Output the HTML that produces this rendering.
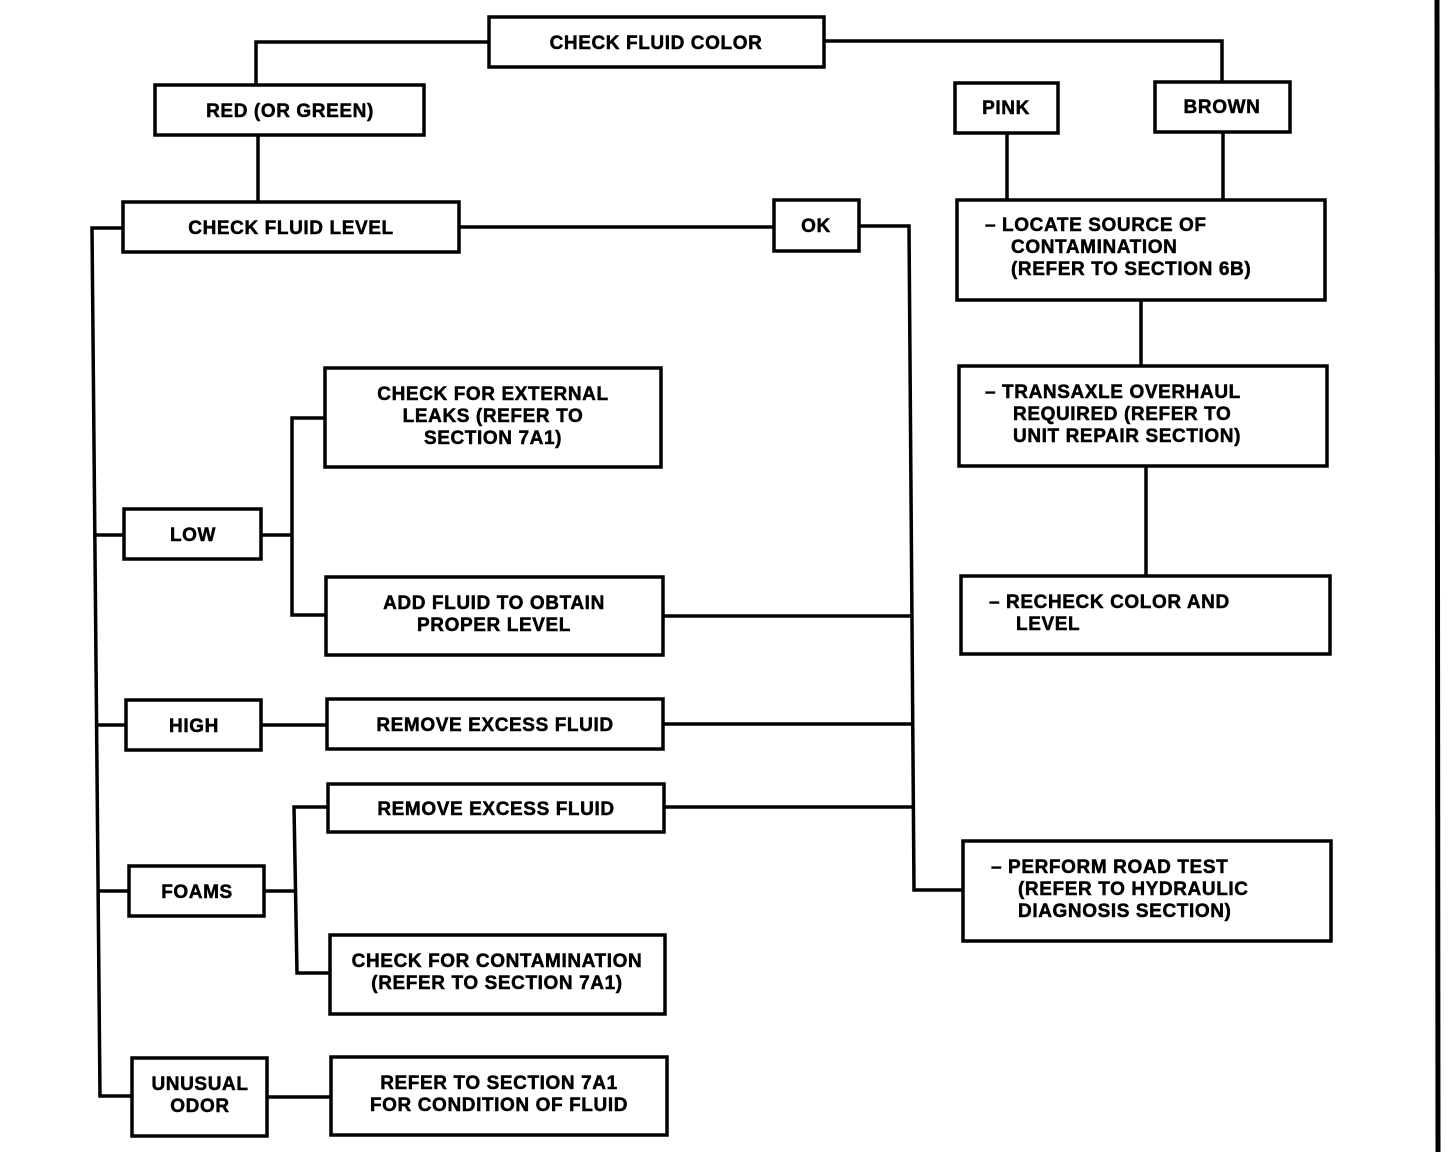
<!DOCTYPE html>
<html><head><meta charset="utf-8"><style>
html,body{margin:0;padding:0;background:#fff;}
svg{display:block}
text{font-family:"Liberation Sans",Arial,sans-serif;font-weight:bold;font-size:19px;fill:#000;stroke:#000;stroke-width:0.5px;letter-spacing:0.6px;}
</style></head><body>
<svg width="1456" height="1152" viewBox="0 0 1456 1152" xmlns="http://www.w3.org/2000/svg">
<g fill="none" stroke="#000" stroke-width="3.5">
<rect x="489" y="17" width="335" height="50"/>
<rect x="155" y="85" width="269" height="50"/>
<rect x="955" y="83" width="103" height="50"/>
<rect x="1155" y="82" width="135" height="50"/>
<rect x="123" y="202" width="336" height="50"/>
<rect x="774" y="200" width="85" height="51"/>
<rect x="957" y="200" width="368" height="100"/>
<rect x="325" y="368" width="336" height="99"/>
<rect x="959" y="366" width="368" height="100"/>
<rect x="124" y="509" width="137" height="50"/>
<rect x="326" y="577" width="337" height="78"/>
<rect x="961" y="576" width="369" height="78"/>
<rect x="126" y="700" width="135" height="50"/>
<rect x="327" y="699" width="336" height="50"/>
<rect x="328" y="784" width="336" height="48"/>
<rect x="129" y="866" width="135" height="50"/>
<rect x="963" y="841" width="368" height="100"/>
<rect x="330" y="935" width="335" height="79"/>
<rect x="132" y="1058" width="135" height="78"/>
<rect x="331" y="1057" width="336" height="78"/>
<polyline points="489,42 256,42 256,85"/>
<polyline points="824,41 1222,41 1222,82"/>
<line x1="258" y1="135" x2="258" y2="202"/>
<line x1="459" y1="227" x2="774" y2="227"/>
<polyline points="859,226 909,226 914,890 963,890"/>
<line x1="1007" y1="133" x2="1007" y2="200"/>
<line x1="1223" y1="132" x2="1223" y2="200"/>
<line x1="1141" y1="300" x2="1141" y2="366"/>
<line x1="1146" y1="466" x2="1146" y2="576"/>
<polyline points="123,228 92,228 100,1096 132,1096"/>
<line x1="93" y1="535" x2="124" y2="535"/>
<line x1="95" y1="725" x2="126" y2="725"/>
<line x1="97" y1="891" x2="129" y2="891"/>
<line x1="261" y1="535" x2="292" y2="535"/>
<polyline points="325,418 292,418 292,615 326,615"/>
<line x1="261" y1="725" x2="327" y2="725"/>
<line x1="264" y1="891" x2="294" y2="891"/>
<polyline points="328,807 294,807 297,973 330,973"/>
<line x1="267" y1="1097" x2="331" y2="1097"/>
<line x1="663" y1="616" x2="912" y2="616"/>
<line x1="663" y1="724" x2="912" y2="724"/>
<line x1="664" y1="807" x2="913" y2="807"/>
</g>
<line x1="1437" y1="0" x2="1438" y2="1152" stroke="#000" stroke-width="5"/>
<g text-anchor="middle">
<text x="656" y="49">CHECK FLUID COLOR</text>
<text x="290" y="117">RED (OR GREEN)</text>
<text x="1006" y="114">PINK</text>
<text x="1222" y="113">BROWN</text>
<text x="291" y="234">CHECK FLUID LEVEL</text>
<text x="816" y="232">OK</text>
<text x="493" y="400">CHECK FOR EXTERNAL</text>
<text x="493" y="422">LEAKS (REFER TO</text>
<text x="493" y="444">SECTION 7A1)</text>
<text x="193" y="541">LOW</text>
<text x="494" y="609">ADD FLUID TO OBTAIN</text>
<text x="494" y="631">PROPER LEVEL</text>
<text x="194" y="732">HIGH</text>
<text x="495" y="731">REMOVE EXCESS FLUID</text>
<text x="496" y="815">REMOVE EXCESS FLUID</text>
<text x="197" y="898">FOAMS</text>
<text x="497" y="967">CHECK FOR CONTAMINATION</text>
<text x="497" y="989">(REFER TO SECTION 7A1)</text>
<text x="200" y="1090">UNUSUAL</text>
<text x="200" y="1112">ODOR</text>
<text x="499" y="1089">REFER TO SECTION 7A1</text>
<text x="499" y="1111">FOR CONDITION OF FLUID</text>
</g>
<g>
<text x="985" y="231">–  LOCATE SOURCE OF</text>
<text x="1011" y="253">CONTAMINATION</text>
<text x="1011" y="275">(REFER TO SECTION 6B)</text>
<text x="985" y="398">–  TRANSAXLE OVERHAUL</text>
<text x="1013" y="420">REQUIRED (REFER TO</text>
<text x="1013" y="442">UNIT REPAIR SECTION)</text>
<text x="989" y="608">–  RECHECK COLOR AND</text>
<text x="1016" y="630">LEVEL</text>
<text x="991" y="873">–  PERFORM ROAD TEST</text>
<text x="1018" y="895">(REFER TO HYDRAULIC</text>
<text x="1018" y="917">DIAGNOSIS SECTION)</text>
</g>
</svg>
</body></html>
